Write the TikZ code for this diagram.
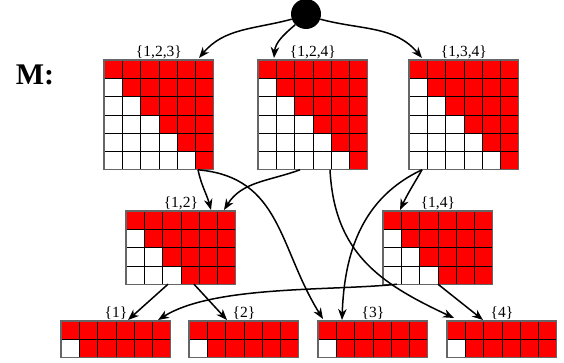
\documentclass[tikz,border=0pt]{standalone}
\usepackage{fontspec}
\setmainfont{Liberation Serif}
\usetikzlibrary{arrows.meta,calc}
\tikzset{
  matbox/.style={draw=none, inner sep=0pt, outer sep=0pt, minimum width=109.8pt, anchor=north west},
  cellbox/.style={draw=black, line width=0.7pt},
  border/.style={draw=black!60, line width=1.3pt},
  lab/.style={font=\fontsize{15.5}{17}\selectfont, inner sep=1pt, anchor=south},
  conn/.style={draw=black, line width=1.5pt, -{Stealth[length=11pt,width=8.5pt,inset=3.5pt]}},
  rootdot/.style={circle, fill=black, minimum size=30pt, inner sep=0pt}
}
\newcommand\mymat[5]{%
  \node[matbox, minimum height={#4*18.3pt}] (#1) at (#2,-#3) {};
  \foreach \r in {1,...,#4}{\foreach \c in {1,...,6}{
    \pgfmathsetmacro\xa{#2+(\c-1)*18.3}
    \pgfmathsetmacro\xb{#2+\c*18.3}
    \pgfmathsetmacro\ya{#3+(\r-1)*18.3}
    \pgfmathsetmacro\yb{#3+\r*18.3}
    \ifnum\c<\r \def\cellcol{white}\else\def\cellcol{red}\fi
    \draw[cellbox, fill=\cellcol] (\xa,-\ya) rectangle (\xb,-\yb);
  }}
  \draw[border] (#1.north west) rectangle (#1.south east);
  \node[lab] (l#1) at (#1.north) {#5};
}
\begin{document}
\begin{tikzpicture}[x=1pt,y=1pt]
\useasboundingbox (0,0) rectangle (564,-362);
\node[inner sep=0pt] (M) at (35,-75) {\fontsize{30}{30}\selectfont\bfseries M:};
\node[rootdot] (root) at (306,-14) {};
\mymat{m123}{104}{60}{6}{\{1,2,3\}}
\mymat{m124}{258}{60}{6}{\{1,2,4\}}
\mymat{m134}{409}{60}{6}{\{1,3,4\}}
\mymat{m12}{126}{211}{4}{\{1,2\}}
\mymat{m14}{383}{211}{4}{\{1,4\}}
\mymat{m1}{61}{321}{2}{\{1\}}
\mymat{m2}{189}{321}{2}{\{2\}}
\mymat{m3}{318}{321}{2}{\{3\}}
\mymat{m4}{447}{321}{2}{\{4\}}
% root connectors
\draw[conn] (root.200) to[out=195,in=50] ([xshift=95pt,yshift=2pt]m123.north west);
\draw[conn] (root.225) to[out=220,in=85] ([xshift=16pt,yshift=2pt]m124.north west);
\draw[conn] (root.-20) to[out=-15,in=130] ([xshift=13pt,yshift=2pt]m134.north west);
% top to middle
\draw[conn] ([xshift=94pt]m123.south west) to[out=-78,in=105] ([xshift=85pt,yshift=1pt]m12.north west);
\draw[conn] ([xshift=42pt]m124.south west) to[out=200,in=58] ([xshift=98pt,yshift=1pt]m12.north west);
\draw[conn] ([xshift=13pt]m134.south west) to[out=240,in=65] ([xshift=17pt,yshift=1pt]m14.north west);
% top to bottom
\draw[conn] ([xshift=94pt]m123.south west) to[out=-5,in=122,looseness=1.1] ([xshift=5pt,yshift=2pt]m3.north west);
\draw[conn] ([xshift=72pt]m124.south west) to[out=-87,in=155,looseness=1.1] ([xshift=7pt,yshift=3pt]m4.north west);
\draw[conn] ([xshift=13pt]m134.south west) to[out=205,in=88] ([xshift=24pt,yshift=1pt]m3.north west);
% middle to bottom
\draw[conn] ([xshift=14pt]m14.south west) to[out=186,in=32,looseness=0.7] ([xshift=97pt,yshift=1pt]m1.north west);
\draw[conn] ([xshift=55pt]m14.south west) -- ([xshift=36pt,yshift=1pt]m4.north west);
\draw[conn] ([xshift=42pt]m12.south west) -- ([xshift=67pt,yshift=1pt]m1.north west);
\draw[conn] ([xshift=68pt]m12.south west) -- ([xshift=38pt,yshift=1pt]m2.north west);
\end{tikzpicture}
\end{document}
